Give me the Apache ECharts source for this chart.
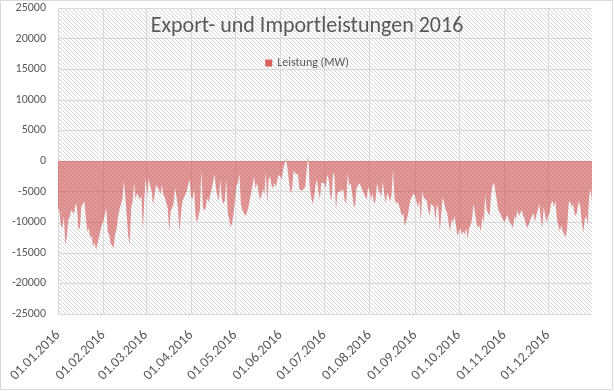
<!DOCTYPE html>
<html><head><meta charset="utf-8">
<script src="https://cdn.jsdelivr.net/npm/echarts@6/dist/echarts.min.js"></script>
<style>html,body{margin:0;padding:0;background:#fff}#c{width:614px;height:391px}</style>
</head><body><div id="c"></div>
<script>
const monthLabels = ['01.01.2016','01.02.2016','01.03.2016','01.04.2016','01.05.2016','01.06.2016','01.07.2016','01.08.2016','01.09.2016','01.10.2016','01.11.2016','01.12.2016'];
const yTicks = [-25000,-20000,-15000,-10000,-5000,0,5000,10000,15000,20000,25000];
const jan = [-7700,-8200,-10500,-11000,-9000,-13700,-12500,-9600,-9200,-8000,-8300,-8600,-6900,-7600,-11300,-10800,-7400,-7700,-6600,-9100,-11500,-11000,-12600,-12200,-14000,-13300,-14500,-14200,-12400,-11300,-10400];
const feb = [-9900,-9600,-7700,-11600,-12000,-13500,-13300,-14200,-12000,-11200,-9100,-8000,-7100,-6300,-3300,-5800,-9000,-12200,-13700,-7700,-6600,-3600,-6300,-5200,-5800,-6300,-5500,-11500,-6300];
const mar = [-2500,-6000,-2800,-4100,-5000,-7200,-7400,-3900,-3600,-4700,-5500,-3900,-5500,-6000,-6300,-7700,-11500,-8200,-7700,-6900,-4400,-5800,-7700,-11500,-8800,-6600,-6000,-6300,-4900,-3900,-3000];
const apr = [-5800,-6300,-4500,-9000,-10100,-9000,-8000,-1400,-7400,-8200,-7600,-6000,-6800,-5500,-4700,-4500,-2200,-4500,-5800,-6500,-3000,-6300,-7000,-6500,-3000,-8500,-9500,-10700,-10200,-8500];
const may = [-6300,-4000,-3600,-2000,-7000,-8000,-8500,-9000,-8500,-7700,-7400,-5200,-4000,-2500,-4500,-3600,-5000,-6300,-5800,-4500,-5500,-1600,-7000,-3000,-2500,-4000,-4500,-3600,-4200,-3000,-2200];
const jun = [-2200,-3000,-1200,-1100,500,-1500,-3600,-5300,-4500,-1600,-2000,-1900,-2200,-4700,-5000,-4800,-4500,-4200,-1400,1000,-4000,-5800,-7000,-6000,-4000,-3000,-5000,-6200,-3500,-3800];
const jul = [-3600,-4500,-2200,-3000,-5500,-6500,-1800,-2500,-8000,-5200,-4900,-4900,-5200,-4700,-6500,-7000,-2000,-4000,-3600,-5300,-7000,-7700,-4500,-4200,-3600,-3800,-4700,-4500,-5800,-6300,-4200];
const aug = [-5000,-6300,-5300,-7000,-6500,-3600,-4700,-4500,-5800,-3300,-5500,-7000,-5200,-5800,-6600,-5500,-1400,-6000,-7000,-6600,-7200,-8000,-9000,-8500,-10700,-10500,-9000,-7500,-6300,-6000,-5300];
const sep = [-5700,-6000,-7500,-6500,-9800,-5000,-6000,-6300,-6500,-8000,-9000,-7000,-6800,-7500,-9800,-7000,-8000,-11500,-8500,-5800,-7000,-8000,-8500,-10000,-11500,-9500,-10000,-9000,-10500,-12300];
const oct = [-12400,-11000,-12000,-11500,-12000,-11000,-12700,-11000,-10500,-9500,-7000,-6800,-10000,-11000,-10500,-11500,-9000,-10000,-5500,-8000,-8500,-9000,-5500,-4000,-3600,-5000,-6500,-8000,-8500,-9000,-9500];
const nov = [-10000,-9500,-8800,-9500,-10000,-10500,-11000,-9000,-9500,-8000,-9000,-8500,-8000,-9000,-9500,-10500,-10900,-11000,-9500,-9000,-8500,-10000,-8800,-8000,-7000,-9500,-11000,-7500,-9000,-10000];
const dec = [-9000,-8500,-7000,-6500,-7500,-6500,-9500,-10500,-11500,-10500,-11500,-12000,-12500,-11000,-7000,-6500,-7500,-7000,-8500,-9000,-8000,-6500,-7500,-10000,-11700,-9500,-9000,-10500,-6000,-4500,-6500];

const months = [jan,feb,mar,apr,may,jun,jul,aug,sep,oct,nov,dec];
const categories = [], values = [], monthStart = new Set();
months.forEach((m, mi) => {
  m.forEach((v, di) => {
    if (di === 0) monthStart.add(categories.length);
    const dd = String(di + 1).padStart(2, '0');
    const mm = String(mi + 1).padStart(2, '0');
    categories.push(dd + '.' + mm + '.2016');
    values.push(v);
  });
});

const tile = document.createElement('canvas');
tile.width = 4; tile.height = 4;
const tc = tile.getContext('2d');
tc.fillStyle = '#ffffff'; tc.fillRect(0, 0, 4, 4);
tc.fillStyle = '#d6d6d6';
for (let i = 0; i < 4; i++) tc.fillRect(i, i, 1, 1);

const FONT = 'Carlito, Lato, "Open Sans", sans-serif';
const chart = echarts.init(document.getElementById('c'), null, {renderer: 'canvas'});
chart.setOption({
  animation: false,
  backgroundColor: '#ffffff',
  title: {
    text: 'Export- und Importleistungen 2016',
    left: 'center', top: 10,
    textStyle: {color: '#595959', fontSize: 22, fontWeight: 'normal', fontFamily: FONT}
  },
  legend: {
    top: 52, left: 'center',
    icon: 'rect', itemWidth: 7, itemHeight: 7, itemGap: 4,
    textStyle: {color: '#595959', fontSize: 12, fontFamily: FONT},
    data: ['Leistung (MW)']
  },
  grid: {
    left: 58, right: 22, top: 8, bottom: 77,
    show: true, borderWidth: 0,
    backgroundColor: {image: tile, repeat: 'repeat'}
  },
  xAxis: {
    type: 'category', data: categories, boundaryGap: false,
    axisLine: {show: false}, axisTick: {show: false},
    axisLabel: {
      interval: (i) => monthStart.has(i),
      rotate: 45, margin: 19,
      color: '#595959', fontSize: 14, fontFamily: FONT,
      formatter: (v) => v
    },
    splitLine: {show: true, interval: (i) => monthStart.has(i), lineStyle: {color: '#d9d9d9', width: 1}}
  },
  yAxis: {
    type: 'value', min: yTicks[0], max: yTicks[yTicks.length - 1], interval: 5000,
    axisLine: {show: false}, axisTick: {show: false},
    axisLabel: {color: '#595959', fontSize: 12, fontFamily: FONT, margin: 12, formatter: (v) => String(v)},
    splitLine: {lineStyle: {color: '#d9d9d9', width: 1}}
  },
  series: [{
    name: 'Leistung (MW)', type: 'line', data: values,
    showSymbol: false, symbol: 'none',
    itemStyle: {color: '#d9605f'},
    lineStyle: {width: 0, opacity: 0},
    areaStyle: {color: 'rgba(205,60,60,0.76)', origin: 0}
  }],
  graphic: [{
    type: 'rect', silent: true, z: 100,
    shape: {x: 0.5, y: 0.5, width: 612, height: 389},
    style: {fill: 'none', stroke: '#d9d9d9', lineWidth: 1}
  }]
});
</script></body></html>
